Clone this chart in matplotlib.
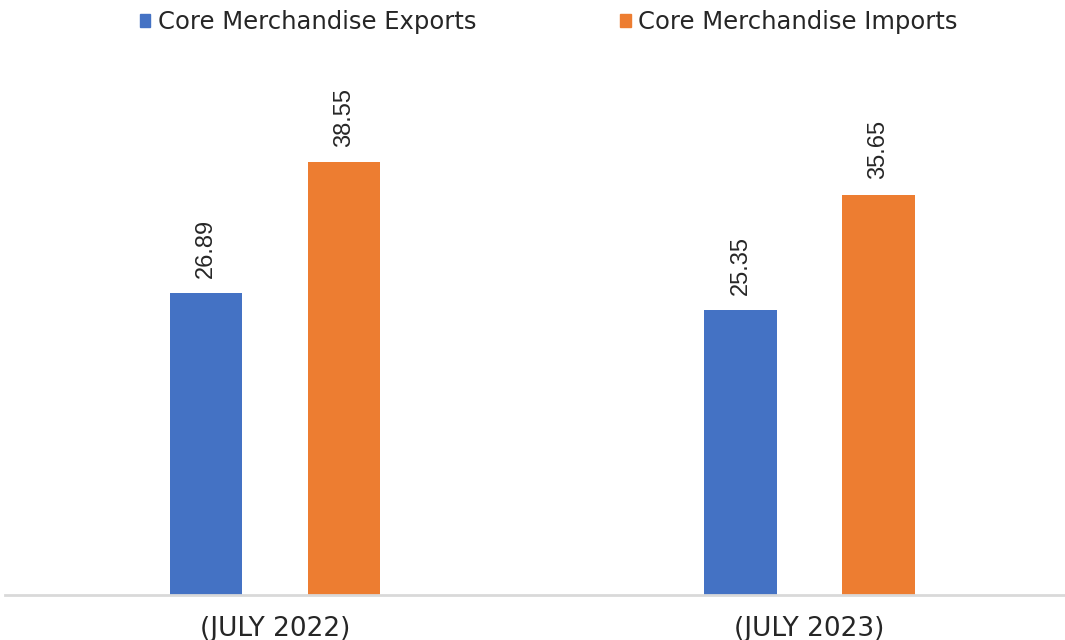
import matplotlib
matplotlib.use("Agg")
from matplotlib import pyplot as plt
from matplotlib.patches import Patch
import numpy as np

# Core merchandise trade, July 2022 vs July 2023
periods = ["(JULY 2022)", "(JULY 2023)"]
series = ["Core Merchandise Exports", "Core Merchandise Imports"]
exports = [26.89, 25.35]
imports = [38.55, 35.65]

colors = ["#4472C4", "#ED7D31"]
label_font = ["Liberation Sans", "DejaVu Sans"]

fig = plt.figure(figsize=(10.65, 6.4), dpi=100)
ax = fig.add_axes([5 / 1065, 45 / 640, 1060 / 1065, 535 / 640])

x = np.arange(len(periods))
width = 0.135
offset = 0.129

b1 = ax.bar(x - offset, exports, width, color=colors[0])
b2 = ax.bar(x + offset, imports, width, color=colors[1])

for bars in (b1, b2):
    ax.bar_label(bars, labels=[f"{v:.2f}" for v in bars.datavalues],
                 rotation=90, padding=11, fontsize=17, family=label_font,
                 color="#262626")

ax.set_xlim(-0.505, 1.478)
ax.set_ylim(0, 47.64)
ax.set_yticks([])
ax.set_xticks(x)
ax.set_xticklabels(periods, fontsize=19, color="#262626")
ax.tick_params(axis="x", length=0, pad=15)

for side in ["top", "left", "right"]:
    ax.spines[side].set_visible(False)
ax.spines["bottom"].set_color("#d9d9d9")
ax.spines["bottom"].set_linewidth(2)

handles = [Patch(color=c, label=s) for c, s in zip(colors, series)]
fig.legend(handles=handles, loc="center", bbox_to_anchor=(0.515, 0.966),
           ncol=2, frameon=False, fontsize=17.5, handlelength=0.45,
           handleheight=0.45, handletextpad=0.3, columnspacing=5.9,
           labelcolor="#262626")

plt.savefig("out.png", dpi=100)
